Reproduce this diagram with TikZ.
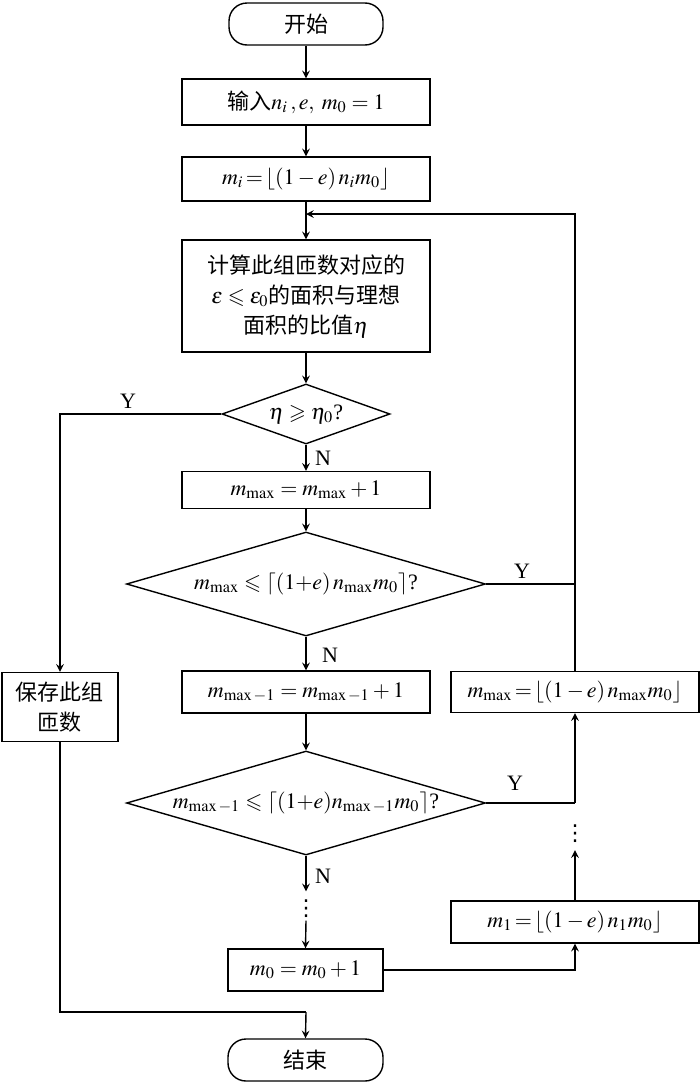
\documentclass[tikz,border=0pt]{standalone}
\usepackage{amsmath,amssymb}
\usepackage{mathptmx}
\usepackage{fontspec}
\setmainfont{Liberation Serif}
\newfontfamily\cjk{Noto Sans CJK SC}
\newfontfamily\sym{DejaVu Sans}
\usetikzlibrary{shapes.geometric}

\begin{document}
\begin{tikzpicture}[x=0.5pt, y=-0.5pt, >=stealth, line width=0.7pt,
        font=\fontsize{11}{15}\selectfont,
        kasten/.style={draw, rectangle, inner sep=0pt, minimum width=124pt, align=center, font=\cjk\fontsize{11}{15}\selectfont},
        raute/.style={draw, diamond, inner sep=0pt, aspect=3.4},
        rund/.style={draw, rectangle, rounded corners=9pt, minimum width=77pt, minimum height=21pt, font=\cjk\fontsize{11}{15}\selectfont},
        punkte/.style={inner xsep=0pt, inner ysep=2.5pt, text height=9pt, text depth=0pt, font=\sym\fontsize{11}{11}\selectfont},
        marke/.style={inner sep=1pt}]
        \useasboundingbox (0,0) rectangle (700,1082);

        % Hauptspalte
        \node[rund] (Start) at (306,24) {开始};
        \node[kasten, minimum height=23pt] (Eingabe) at (306,102) {输入$n_i\,,e,\ m_0=1$};
        \node[kasten, minimum height=22pt] (Init) at (306,179) {$m_i\!=\!\lfloor(1-e)\,n_i m_0\rfloor$};
        \node[kasten, minimum height=56pt] (Rechnen) at (306,296)
            {计算此组匝数对应的\\$\varepsilon\leqslant\varepsilon_0$的面积与理想\\面积的比值$\eta$};
        \node[raute, minimum width=84pt, minimum height=30pt] (Eta) at (306,414) {$\eta\geqslant\eta_0$?};
        \node[kasten, minimum height=18.5pt] (Inc1) at (306,490) {$m_{\max}=m_{\max}+1$};
        \node[raute, minimum width=179.5pt, minimum height=52pt] (Dia2) at (306,584)
            {$m_{\max}\leqslant\lceil(1{+}e)\,n_{\max}m_0\rceil$?};
        \node[kasten, minimum height=21pt] (Inc2) at (306,692) {$m_{\max-1}=m_{\max-1}+1$};
        \node[raute, minimum width=179.5pt, minimum height=52pt] (Dia3) at (306,803)
            {$m_{\max-1}\leqslant\lceil(1{+}e)n_{\max-1}m_0\rceil$?};
        \node[punkte] (Punkte1) at (306,906) {⋮};
        \node[kasten, minimum width=77.5pt, minimum height=21pt] (Inc0) at (305.5,970) {$m_0=m_0+1$};
        \node[rund, minimum width=77.5pt] (Ende) at (305.5,1060) {结束};

        % linke Spalte
        \node[kasten, minimum width=58pt, minimum height=34.5pt] (Speichern) at (60,707) {保存此组\\匝数};

        % rechte Spalte
        \node[kasten, minimum height=20.5pt] (Mmax) at (575,692) {$m_{\max}\!=\!\lfloor(1-e)\,n_{\max}m_0\rfloor$};
        \node[kasten, minimum height=21pt] (M1) at (575,922) {$m_1\!=\!\lfloor(1-e)\,n_1m_0\rfloor$};
        \node[punkte, inner ysep=4.5pt] (Punkte2) at (575,831.5) {⋮};

        % Hilfspunkte
        \coordinate (Einmuend) at (306,214);
        \coordinate (Abzw2) at (575,584);
        \coordinate (Abzw3) at (575,803);
        \coordinate (Zusammen) at (306,1012);

        % Pfeile
        \draw[->] (Start) -- (Eingabe);
        \draw[->] (Eingabe) -- (Init);
        \draw[->] (Init) -- (Rechnen);
        \draw[->] (Rechnen) -- (Eta);
        \draw[->] (Eta) -- (Inc1);
        \draw[->] (Inc1) -- (Dia2);
        \draw[->] (Dia2) -- (Inc2);
        \draw[->] (Inc2) -- (Dia3);
        \draw[->] (Dia3.south) -- (Punkte1.north);
        \draw[->] (Punkte1.south) -- (Inc0.north);
        \draw[->] (Eta.west) -| (Speichern.north);
        \draw (Speichern.south) |- (Zusammen);
        \draw[->] (Zusammen) -- (Ende.north);
        \draw (Dia2.east) -- (Abzw2);
        \draw (Dia3.east) -- (Abzw3);
        \draw[->] (Abzw3) -- (Mmax.south);
        \draw[->] (Mmax.north) |- (Einmuend);
        \draw[->] (M1.north) -- (Punkte2.south);
        \draw[->] (Inc0.east) -| (M1.south);

        % Beschriftungen
        \node[marke] (LabY1) at (128,401) {Y};
        \node[marke] (LabN1) at (323,458) {N};
        \node[marke] (LabY2) at (522,571) {Y};
        \node[marke] (LabN2) at (330,655) {N};
        \node[marke] (LabY3) at (515,783) {Y};
        \node[marke] (LabN3) at (323,876) {N};
    \end{tikzpicture}
\end{document}
